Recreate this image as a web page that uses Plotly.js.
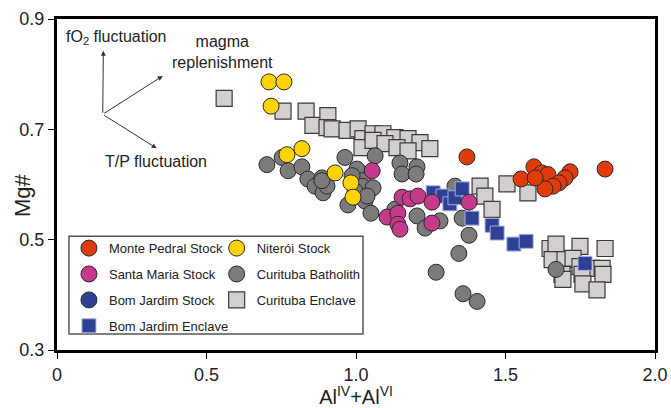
<!DOCTYPE html>
<html>
<head>
<meta charset="utf-8">
<script src="https://cdn.plot.ly/plotly-3.0.1.min.js"></script>
<style>html,body{margin:0;padding:0;background:#fff;}#chart{width:671px;height:408px;}</style>
</head>
<body>
<div id="chart"></div>
<script>
// ---- data (Al(IV)+Al(VI) vs Mg#) ----
const monteX = [1.371, 1.833, 1.552, 1.595, 1.622, 1.642, 1.716, 1.699, 1.679, 1.659, 1.632, 1.599];
const monteY = [0.650, 0.628, 0.610, 0.632, 0.621, 0.618, 0.623, 0.612, 0.603, 0.597, 0.592, 0.612];

const niteroiX = [0.709, 0.759, 0.716, 0.769, 0.819, 0.930, 0.983, 0.990];
const niteroiY = [0.786, 0.786, 0.742, 0.654, 0.665, 0.621, 0.603, 0.577];

const santaX = [1.054, 1.154, 1.181, 1.207, 1.254, 1.104, 1.140, 1.140, 1.147, 1.254, 1.378];
const santaY = [0.625, 0.577, 0.574, 0.579, 0.568, 0.541, 0.548, 0.528, 0.519, 0.530, 0.568];

// Bom Jardim Stock: listed in the legend, no points visible in the plot
const bjStockX = [null];
const bjStockY = [null];

const bjEnclaveX = [1.258, 1.291, 1.314, 1.331, 1.355, 1.388, 1.455, 1.472, 1.528, 1.569, 1.766];
const bjEnclaveY = [0.585, 0.579, 0.565, 0.576, 0.592, 0.539, 0.526, 0.512, 0.492, 0.497, 0.457];

const batholithX = [0.702, 0.753, 0.773, 0.819, 0.839, 0.863, 0.886, 0.890, 0.903, 0.886,
  0.963, 1.003, 1.023, 1.020, 1.057, 1.064, 0.973, 1.030, 1.050, 0.987, 0.997, 1.037,
  1.147, 1.204, 1.154, 1.201, 1.130, 1.204, 1.231, 1.281,
  1.331, 1.355, 1.378, 1.344, 1.268, 1.358, 1.405, 1.669];
const batholithY = [0.636, 0.649, 0.625, 0.632, 0.610, 0.597, 0.612, 0.585, 0.597, 0.607,
  0.649, 0.628, 0.607, 0.597, 0.594, 0.652, 0.563, 0.570, 0.548, 0.616, 0.588, 0.579,
  0.639, 0.632, 0.619, 0.619, 0.555, 0.543, 0.521, 0.534,
  0.597, 0.539, 0.508, 0.475, 0.441, 0.402, 0.388, 0.446];

const enclaveX = [0.559, 0.756, 0.833, 0.856, 0.906, 0.903, 0.920, 0.970, 1.007, 1.023,
  1.057, 1.090, 1.130, 1.174, 1.214, 1.247, 1.020, 1.057, 1.097, 1.137, 1.174,
  1.415, 1.505, 1.431, 1.455, 1.575,
  1.649, 1.669, 1.749, 1.833, 1.656, 1.699, 1.726, 1.749, 1.789, 1.823,
  1.689, 1.756, 1.826, 1.692, 1.759, 1.806];
const enclaveY = [0.756, 0.733, 0.733, 0.707, 0.725, 0.703, 0.701, 0.698, 0.701, 0.683,
  0.692, 0.692, 0.685, 0.683, 0.676, 0.665, 0.667, 0.680, 0.674, 0.667, 0.661,
  0.597, 0.601, 0.579, 0.555, 0.585,
  0.484, 0.492, 0.488, 0.484, 0.464, 0.464, 0.466, 0.451, 0.448, 0.448,
  0.437, 0.437, 0.437, 0.428, 0.420, 0.409];

const xTickVals = [0, 0.5, 1.0, 1.5, 2.0];
const xTickText = ['0', '0.5', '1.0', '1.5', '2.0'];
const yTickVals = [0.3, 0.5, 0.7, 0.9];
const yTickText = ['0.3', '0.5', '0.7', '0.9'];

// ---- styling ----
const FONT = 'Liberation Sans, Arial, sans-serif';
function circ(color) { return {symbol: 'circle', size: 16, color: color, line: {color: '#2a2a2a', width: 1}}; }

const traces = [
  {name: 'Curituba Enclave', x: enclaveX, y: enclaveY, legend: 'legend2', legendrank: 3,
   marker: {symbol: 'square', size: 16, color: '#D3CFCF', line: {color: '#3a3a3a', width: 1.2}}},
  {name: 'Curituba Batholith', x: batholithX, y: batholithY, legend: 'legend2', legendrank: 2,
   marker: circ('#7B7B7B')},
  {name: 'Niterói Stock', x: niteroiX, y: niteroiY, legend: 'legend2', legendrank: 1,
   marker: circ('#FFD300')},
  {name: 'Bom Jardim Stock', x: bjStockX, y: bjStockY, legend: 'legend', legendrank: 3,
   marker: circ('#2E3F96')},
  {name: 'Bom Jardim Enclave', x: bjEnclaveX, y: bjEnclaveY, legend: 'legend', legendrank: 4,
   marker: {symbol: 'square', size: 14, color: '#2E3F96', line: {color: '#A7AEDD', width: 1}}},
  {name: 'Santa Maria Stock', x: santaX, y: santaY, legend: 'legend', legendrank: 2,
   marker: circ('#C6398B')},
  {name: 'Monte Pedral Stock', x: monteX, y: monteY, legend: 'legend', legendrank: 1,
   marker: circ('#E03C0B')}
].map((t, i) => Object.assign({type: 'scatter', mode: 'markers', legendgroup: 'g' + i, hoverinfo: 'skip'}, t));

const legendCommon = {
  font: {family: FONT, size: 13, color: '#222'},
  bgcolor: 'rgba(0,0,0,0)', borderwidth: 0,
  traceorder: 'grouped', tracegroupgap: 6,
  xanchor: 'left', yanchor: 'top'
};

const annFont = {family: FONT, size: 16, color: '#222'};
const layout = {
  width: 671, height: 408,
  margin: {l: 57, r: 16, t: 19, b: 58},
  paper_bgcolor: '#fff', plot_bgcolor: '#fff',
  showlegend: true,
  xaxis: {
    range: [0, 2], tickvals: xTickVals, ticktext: xTickText,
    showgrid: false, zeroline: false,
    showline: true, mirror: true, linecolor: '#000', linewidth: 3,
    ticks: 'outside', ticklen: 6, tickcolor: '#000', tickwidth: 1,
    tickfont: {family: FONT, size: 18, color: '#222'},
    title: {text: 'Al<sup>IV</sup>+Al<sup>VI</sup>', font: {family: FONT, size: 20, color: '#222'}, standoff: 6}
  },
  yaxis: {
    range: [0.3, 0.9], tickvals: yTickVals, ticktext: yTickText,
    showgrid: false, zeroline: false,
    showline: true, mirror: true, linecolor: '#000', linewidth: 3,
    ticks: 'outside', ticklen: 6, tickcolor: '#000', tickwidth: 1,
    tickfont: {family: FONT, size: 18, color: '#222'}
  },
  legend: Object.assign({}, legendCommon, {x: 0.02, y: 0.353}),
  legend2: Object.assign({}, legendCommon, {x: 0.267, y: 0.353}),
  shapes: [{type: 'rect', xref: 'paper', yref: 'paper', x0: 0.02, x1: 0.5117, y0: 0.048, y1: 0.344,
            line: {color: '#555', width: 1.5}, fillcolor: '#fff', layer: 'above'}],
  annotations: [
    {x: 0.155, y: 0.8425, ax: -0.6, ay: 63.6, text: '', showarrow: true, arrowhead: 2, arrowsize: 1, arrowwidth: 1, arrowcolor: '#333', standoff: 0},
    {x: 0.3535, y: 0.7967, ax: -60, ay: 38.3, text: '', showarrow: true, arrowhead: 2, arrowsize: 1, arrowwidth: 1, arrowcolor: '#333', standoff: 0},
    {x: 0.3334, y: 0.6656, ax: -54, ay: -34, text: '', showarrow: true, arrowhead: 2, arrowsize: 1, arrowwidth: 1, arrowcolor: '#333', standoff: 0},
    {xref: 'paper', yref: 'paper', x: (116 - 57) / 598, y: (350 - 38) / 331, text: 'fO<sub>2</sub> fluctuation', showarrow: false, font: annFont, xanchor: 'center', yanchor: 'middle'},
    {xref: 'paper', yref: 'paper', x: (222 - 57) / 598, y: (350 - 52) / 331, text: 'magma<br>replenishment', showarrow: false, font: annFont, xanchor: 'center', yanchor: 'middle', align: 'center'},
    {xref: 'paper', yref: 'paper', x: (156 - 57) / 598, y: (350 - 162) / 331, text: 'T/P fluctuation', showarrow: false, font: annFont, xanchor: 'center', yanchor: 'middle'},
    {xref: 'paper', yref: 'paper', x: (22 - 57) / 598, y: (350 - 195) / 331, text: 'Mg#', textangle: -90, showarrow: false,
     font: {family: FONT, size: 22, color: '#222'}, xanchor: 'center', yanchor: 'middle'}
  ]
};

Plotly.newPlot('chart', traces, layout, {displayModeBar: false, staticPlot: true});
</script>
</body>
</html>
